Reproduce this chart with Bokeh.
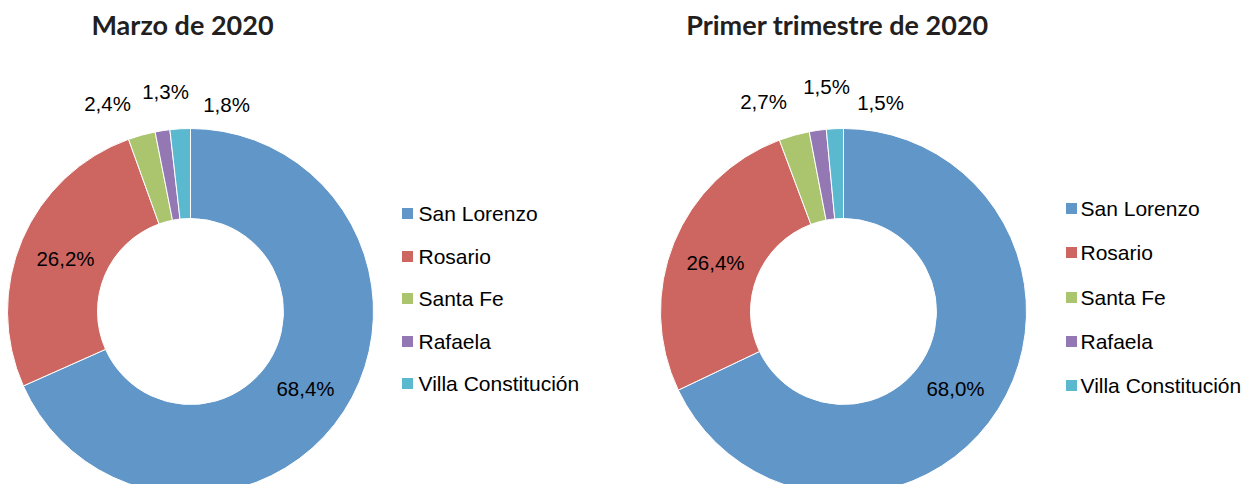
import math
from bokeh.plotting import figure
from bokeh.models import Range1d
from bokeh.core.properties import value
from bokeh.embed import file_html
from bokeh.resources import INLINE

categories = ["San Lorenzo", "Rosario", "Santa Fe", "Rafaela", "Villa Constitución"]
marzo_values = [68.4, 26.2, 2.4, 1.3, 1.8]
trimestre_values = [68.0, 26.4, 2.7, 1.5, 1.5]
colors = ["#6196C8", "#CD6660", "#AAC56E", "#9478B4", "#5BB9CF"]
titles = ["Marzo de 2020", "Primer trimestre de 2020"]

W, H = 1245, 484
p = figure(width=W, height=H, output_backend="svg", toolbar_location=None,
           x_range=Range1d(0, W), y_range=Range1d(0, H), min_border=0)
p.axis.visible = False
p.grid.visible = False
p.outline_line_color = None
p.background_fill_color = "white"


def Y(screen_y):
    return H - screen_y


def X(screen_x):
    return screen_x


def fmt(v):
    return ("%.1f" % v).replace(".", ",") + "%"


charts = [
    dict(vals=marzo_values, cx=190, cy=311, title_x=182,
         labels=[(305, 388), (65, 258), (107, 103), (165, 91), (226, 104)],
         leg_sq=407, leg_tx=418, leg_y=[213, 256, 298, 341, 383]),
    dict(vals=trimestre_values, cx=843, cy=311, title_x=837,
         labels=[(955, 388), (715, 262), (763, 101), (826, 86), (880, 102)],
         leg_sq=1071, leg_tx=1080, leg_y=[208, 252, 297, 341, 385]),
]

R_OUT, R_IN = 183, 93

for ci, c in enumerate(charts):
    vals = c["vals"]
    tot = sum(vals)
    start = math.pi / 2
    starts, ends = [], []
    for v in vals:
        a = 2 * math.pi * v / tot
        starts.append(start)
        ends.append(start - a)
        start -= a
    n = len(vals)
    p.annular_wedge(x=[X(c["cx"])] * n, y=[Y(c["cy"])] * n,
                    inner_radius=R_IN, outer_radius=R_OUT,
                    start_angle=starts, end_angle=ends, direction="clock",
                    fill_color=colors, line_color="white", line_width=1)
    p.text(x=[X(px) for px, _ in c["labels"]], y=[Y(py) for _, py in c["labels"]],
           text=[fmt(v) for v in vals], text_align="center", text_baseline="middle",
           text_font=value("Liberation Sans"), text_font_size="20.5px", text_color="black")
    p.text(x=[X(c["title_x"])], y=[Y(24)], text=[titles[ci]], text_align="center",
           text_baseline="middle", text_font=value("Lato"), text_font_style="bold",
           text_font_size="27px", text_color="#231f20")
    p.rect(x=[X(c["leg_sq"])] * n, y=[Y(yy) for yy in c["leg_y"]], width=11, height=11,
           fill_color=colors, line_color=None)
    p.text(x=[X(c["leg_tx"])] * n, y=[Y(yy) for yy in c["leg_y"]], text=categories,
           text_align="left", text_baseline="middle", text_font=value("Liberation Sans"),
           text_font_size="21px", text_color="black")

open("out.html", "w").write(file_html(p, INLINE))
